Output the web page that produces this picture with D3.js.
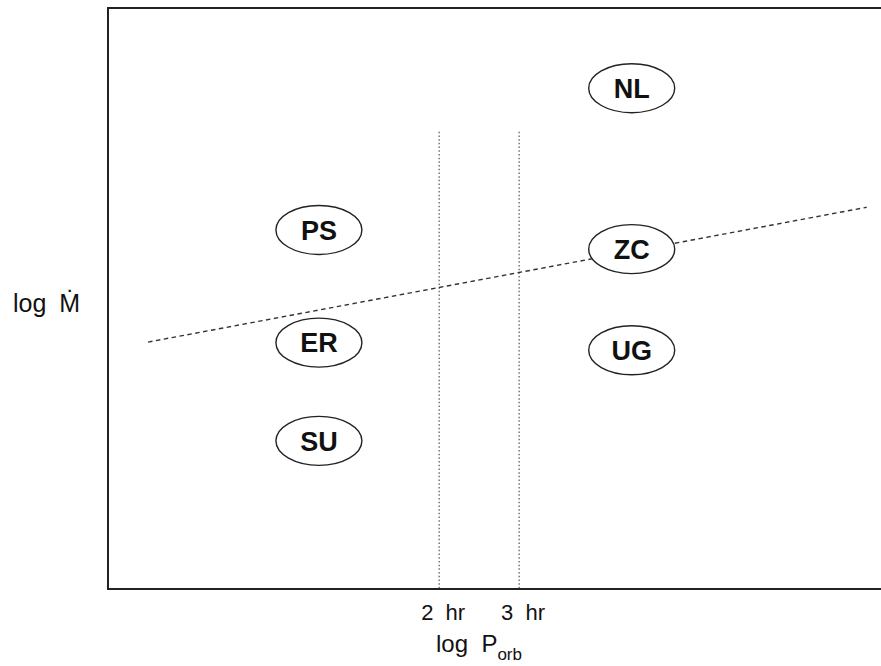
<!DOCTYPE html>
<html>
<head>
<meta charset="utf-8">
<script src="https://cdn.jsdelivr.net/npm/d3@7"></script>
<style>
  html, body { margin: 0; padding: 0; background: #fff; overflow: hidden; }
  svg { display: block; }
  text { font-family: "Liberation Sans", Arial, Helvetica, sans-serif; fill: #111; white-space: pre; }
</style>
</head>
<body>
<svg id="chart" width="881" height="666"></svg>
<script>
// ---- data ----
const classes    = ["PS", "ER", "SU", "NL", "ZC", "UG"];
const classPorb  = [1.087, 1.087, 1.087, 5.31, 5.31, 5.31];   // hours (log axis)
const classLogM  = [6.18, 4.24, 2.55, 8.62, 5.85, 4.11];      // arbitrary log Mdot units
const gapPorb    = [2, 3];                                    // period-gap boundaries, hours
const gapTop     = 7.87;                                      // top of the gap lines
const tickLabels = ["2  hr", "3  hr"];
const critPorb   = [0.457, 17.48];                            // dashed critical-rate line
const critLogM   = [4.25, 6.57];
const xDomain    = [0.373, 20.7];
const yDomain    = [0, 10];

// ---- scales ----
const svg = d3.select("#chart");
const x = d3.scaleLog().domain(xDomain).range([108, 900]);
const y = d3.scaleLinear().domain(yDomain).range([589, 8]);

// frame (left, top, bottom; right side runs off the page)
svg.append("path")
  .attr("d", d3.line()([[x(xDomain[1]), y(yDomain[1])], [x(xDomain[0]), y(yDomain[1])],
                        [x(xDomain[0]), y(yDomain[0])], [x(xDomain[1]), y(yDomain[0])]]))
  .attr("fill", "none").attr("stroke", "#222").attr("stroke-width", 2);

// period gap dotted lines
svg.selectAll("line.gap").data(gapPorb).enter().append("line")
  .attr("class", "gap")
  .attr("x1", d => x(d)).attr("x2", d => x(d))
  .attr("y1", y(gapTop)).attr("y2", y(yDomain[0]))
  .attr("stroke", "#444").attr("stroke-width", 1.1)
  .attr("stroke-dasharray", "1.5,2.2");

// tick labels
svg.selectAll("text.tick").data(gapPorb).enter().append("text")
  .attr("class", "tick")
  .attr("x", d => x(d) + 4).attr("y", 620)
  .attr("text-anchor", "middle")
  .attr("font-size", 22)
  .text((d, i) => tickLabels[i]);

// dashed critical line
svg.append("line")
  .attr("x1", x(critPorb[0])).attr("y1", y(critLogM[0]))
  .attr("x2", x(critPorb[1])).attr("y2", y(critLogM[1]))
  .attr("stroke", "#333").attr("stroke-width", 1.4)
  .attr("stroke-dasharray", "4.5,3.5");

// ellipses
const g = svg.selectAll("g.cls").data(classes).enter().append("g")
  .attr("class", "cls")
  .attr("transform", (d, i) => `translate(${x(classPorb[i])},${y(classLogM[i])})`);
g.append("ellipse")
  .attr("rx", 43).attr("ry", 24.5)
  .attr("fill", "#fff").attr("stroke", "#222").attr("stroke-width", 1.4);
g.append("text")
  .attr("text-anchor", "middle").attr("dy", "0.36em")
  .attr("font-size", 27).attr("font-weight", "bold")
  .text(d => d);

// axis labels
const yl = svg.append("text").attr("x", 13).attr("y", 312).attr("font-size", 25);
yl.append("tspan").text("log ");
yl.append("tspan").attr("dx", 6).text("M\u0307");

const xl = svg.append("text").attr("x", 479).attr("y", 652)
  .attr("text-anchor", "middle").attr("font-size", 24);
xl.append("tspan").text("log  P");
xl.append("tspan").attr("font-size", 17).attr("dy", 8).text("orb");
</script>
</body>
</html>
